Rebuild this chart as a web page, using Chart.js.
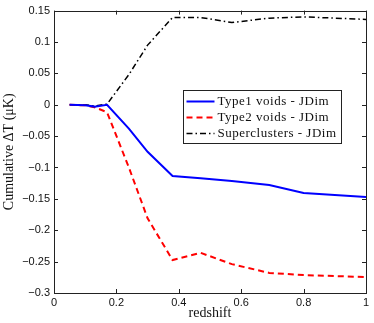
<!DOCTYPE html>
<html><head><meta charset="utf-8">
<script src="https://cdn.jsdelivr.net/npm/chart.js@4"></script>
<style>html,body{margin:0;padding:0;background:#fff}#wrap{width:374px;height:323px}</style>
</head><body><div id="wrap"><canvas id="c" width="374" height="323"></canvas></div>
<script>
const redshift      = [0.05, 0.10, 0.13, 0.17, 0.24, 0.30, 0.38, 0.47, 0.57, 0.69, 0.80, 1.00];
const type1Voids    = [0.000, -0.001, -0.003, 0.000, -0.038, -0.075, -0.1135, -0.117, -0.1215, -0.128, -0.1405, -0.147];
const type2Voids    = [0.000, -0.001, -0.004, -0.012, -0.100, -0.181, -0.2475, -0.236, -0.254, -0.268, -0.2715, -0.2745];
const superclusters = [0.000, 0.000, -0.002, 0.001, 0.048, 0.095, 0.139, 0.139, 0.131, 0.138, 0.140, 0.136];
const seriesNames   = ['Type1 voids - JDim', 'Type2 voids - JDim', 'Superclusters - JDim'];
const xTicks = [0, 0.2, 0.4, 0.6, 0.8, 1];
const yTicks = [-0.3, -0.25, -0.2, -0.15, -0.1, -0.05, 0, 0.05, 0.1, 0.15];

const pts = ys => redshift.map((x, i) => ({x: x, y: ys[i]}));
const fmt = v => { const s = String(Number(v.toFixed(2))); return s.replace('-', '\u2212'); };
const SERIF = '"Liberation Serif", "DejaVu Serif", serif';
const SANS = '"Liberation Sans", Arial, sans-serif';

const frame = {
  id: 'frame',
  afterDraw(chart) {
    const ctx = chart.ctx, ca = chart.chartArea;
    const xs = chart.scales.x, ys = chart.scales.y;
    ctx.save();
    ctx.strokeStyle = '#222';
    ctx.lineWidth = 1;
    ctx.strokeRect(Math.round(ca.left) + 0.5, Math.round(ca.top) + 0.5, Math.round(ca.right - ca.left), Math.round(ca.bottom - ca.top));
    ctx.beginPath();
    const L = 4;
    xTicks.forEach(v => {
      const p = Math.round(xs.getPixelForValue(v)) + 0.5;
      ctx.moveTo(p, ca.bottom); ctx.lineTo(p, ca.bottom - L);
      ctx.moveTo(p, ca.top); ctx.lineTo(p, ca.top + L);
    });
    yTicks.forEach(v => {
      const p = Math.round(ys.getPixelForValue(v)) + 0.5;
      ctx.moveTo(ca.left, p); ctx.lineTo(ca.left + L, p);
      ctx.moveTo(ca.right, p); ctx.lineTo(ca.right - L, p);
    });
    ctx.stroke();

    // legend inside plot
    ctx.font = '13px ' + SERIF;
    try { ctx.letterSpacing = '0.5px'; } catch (e) {}
    const dsets = chart.data.datasets;
    let tw = 0;
    dsets.forEach(d => tw = Math.max(tw, ctx.measureText(d.label).width));
    const bx = Math.round(ca.left + 129) + 0.5, by = Math.round(ca.top + 79) + 0.5;
    const sampleW = 28, rowH = 16;
    const bw = Math.round(4 + sampleW + 3 + tw + 4), bh = Math.round(rowH * dsets.length + 5);
    ctx.fillStyle = '#fff';
    ctx.fillRect(bx, by, bw, bh);
    ctx.strokeStyle = '#222';
    ctx.lineWidth = 1;
    ctx.strokeRect(bx, by, bw, bh);
    dsets.forEach((d, i) => {
      const cy = by + 11 + i * rowH;
      ctx.save();
      ctx.strokeStyle = d.borderColor;
      ctx.lineWidth = d.borderWidth;
      ctx.setLineDash(d.borderDash || []);
      ctx.beginPath();
      ctx.moveTo(bx + 3, cy); ctx.lineTo(bx + 3 + sampleW, cy);
      ctx.stroke();
      ctx.restore();
      ctx.fillStyle = '#111';
      ctx.textBaseline = 'middle';
      ctx.textAlign = 'left';
      ctx.fillText(d.label, bx + 4 + sampleW + 2, cy);
    });
    ctx.restore();
  }
};

new Chart(document.getElementById('c'), {
  type: 'line',
  data: {
    datasets: [
      {label: seriesNames[0], data: pts(type1Voids), borderColor: '#0000ff', borderWidth: 2, borderDash: [], pointRadius: 0, tension: 0, fill: false},
      {label: seriesNames[1], data: pts(type2Voids), borderColor: '#ff0000', borderWidth: 2, borderDash: [6, 4], pointRadius: 0, tension: 0, fill: false},
      {label: seriesNames[2], data: pts(superclusters), borderColor: '#000000', borderWidth: 1.5, borderDash: [6, 3, 1.5, 3], pointRadius: 0, tension: 0, fill: false}
    ]
  },
  options: {
    responsive: false,
    devicePixelRatio: 1,
    animation: false,
    layout: {padding: {left: 0, right: 8, top: 10, bottom: 0}},
    plugins: {legend: {display: false}, tooltip: {enabled: false}},
    scales: {
      x: {
        type: 'linear', min: 0, max: 1,
        afterBuildTicks: s => { s.ticks = xTicks.map(v => ({value: v})); },
        afterFit: s => { s.height = 30; },
        grid: {display: false, drawTicks: false},
        border: {display: false},
        ticks: {callback: v => fmt(v), padding: 3, color: '#111', font: {family: SANS, size: 11}, maxRotation: 0},
        title: {display: true, text: 'redshift', color: '#111', font: {family: SERIF, size: 14}, padding: {top: 0, bottom: 1}}
      },
      y: {
        type: 'linear', min: -0.3, max: 0.15,
        afterBuildTicks: s => { s.ticks = yTicks.map(v => ({value: v})); },
        afterFit: s => { s.width = 54; },
        grid: {display: false, drawTicks: false},
        border: {display: false},
        ticks: {callback: v => fmt(v), padding: 4, color: '#111', font: {family: SANS, size: 11}},
        title: {display: true, text: 'Cumulative \u0394T (\u03BCK)', color: '#111', font: {family: SERIF, size: 14}, padding: {top: 1, bottom: 0}}
      }
    }
  },
  plugins: [frame]
});
</script></body></html>
